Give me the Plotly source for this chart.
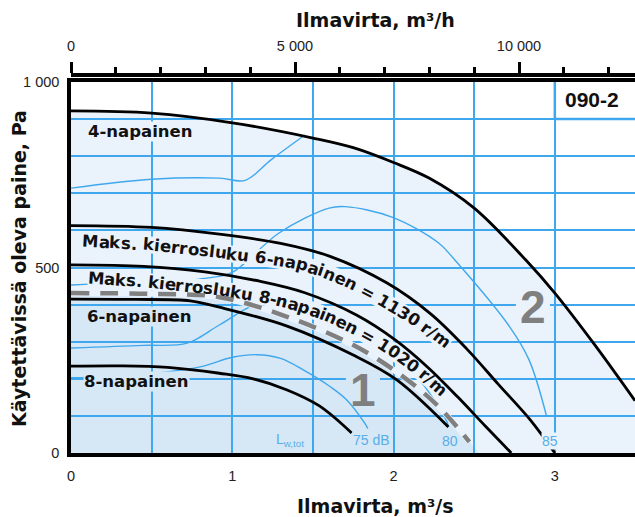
import math
import plotly.graph_objects as go

# ---- figure geometry (px) ----
FIG_W, FIG_H = 635, 517
M_L, M_R, M_T, M_B = 71, 0, 75, 64
PLOT_W = FIG_W - M_L - M_R          # width of the plot area
PLOT_H = 371                        # height spanned by 0…1000 Pa
PAPER_H = FIG_H - M_T - M_B
X_MAX = 3.497                       # m³/s at the right edge
Y_MAX = 1000
M3H_PER_M3S = 3600

# ---- fan curves: airflow (m³/s) vs available pressure (Pa) ----
pole4_q = [0, 0.5, 1.0, 1.5, 1.75, 2.0, 2.22, 2.5, 2.82, 3.0, 3.25, 3.497]
pole4_p = [922, 916, 890, 849, 823, 783, 741, 660, 520, 431, 290, 141]

max6_q = [0, 0.5, 0.92, 1.3, 1.606, 1.96, 2.23, 2.455, 2.65, 2.85, 3.0]
max6_p = [613, 608, 590, 565, 530, 458, 375, 280, 185, 88, 0]

max8_q = [0, 0.45, 0.83, 1.17, 1.45, 1.77, 2.01, 2.22, 2.4, 2.57, 2.73]
max8_p = [507, 503, 488, 463, 432, 372, 305, 228, 150, 72, 0]

limit_q = [0, 0.49, 0.92, 1.34, 1.75, 2.02, 2.27, 2.47]
limit_p = [431, 429, 420, 367, 291, 218, 129, 30]
area1_end_q = 2.53

pole6_q = [0, 0.4, 0.74, 0.92, 1.34, 1.75, 2.02, 2.34]
pole6_p = [415, 414, 410, 393, 342, 264, 197, 70]

pole8_q = [0, 0.3, 0.6, 0.92, 1.13, 1.34, 1.54, 1.74]
pole8_p = [234, 235, 231, 215, 200, 170, 127, 54]

# ---- sound power level lines ----
lw85_4p_q = [0, 0.5, 0.92, 1.08, 1.24, 1.45]
lw85_4p_p = [714, 738, 741, 735, 790, 857]

lw85_q = [0, 0.5, 0.85, 1.0, 1.29, 1.6, 1.7, 1.99, 2.28, 2.38, 2.72, 2.84, 2.95]
lw85_p = [453, 462, 472, 487, 593, 660, 664, 636, 566, 520, 340, 251, 97]

lw80_q = [0, 0.45, 0.72, 0.92, 1.17, 1.45, 1.8, 2.11, 2.32, 2.34]
lw80_p = [283, 290, 296, 345, 404, 400, 330, 224, 94, 72]

lw75_q = [0, 0.4, 0.8, 1.0, 1.15, 1.3, 1.44, 1.61, 1.71, 1.82, 1.84]
lw75_p = [203, 210, 232, 258, 265, 255, 224, 178, 143, 81, 66]

# ---- ticks ----
y_ticks = [0, 500, 1000]
y_tick_text = ["0", "500", "1 000"]
x_ticks = [0, 1, 2, 3]
x_tick_text = ["0", "1", "2", "3"]
top_ticks = [0, 5000, 10000]
top_tick_text = ["0", "5 000", "10 000"]

# ---- label baselines that follow the max-speed curves ----
lab6max_text = "Maks. kierrosluku 6-napainen = 1130 r/m"
lab6max_q = [0.068, 0.490, 0.880, 1.184, 1.420, 1.575, 1.730, 1.885, 2.040, 2.195, 2.343]
lab6max_p = [571, 561, 542, 526, 509, 488, 458, 423, 383, 340, 291]

lab8max_text = "Maks. kierrosluku 8-napainen = 1020 r/m"
lab8max_q = [0.105, 0.490, 0.880, 1.203, 1.420, 1.575, 1.730, 1.885, 2.040, 2.195, 2.319]
lab8max_p = [472, 461, 442, 420, 396, 372, 342, 305, 261, 210, 162]

# area numbers: (q, p, text, background)
area_labels = [(1.81, 170, "1", "dark"), (2.864, 394, "2", "light")]

# ---- styles ----
LIGHT = "#EAF3FB"
DARK = "#D6E7F6"
GRID = "#3FA7EE"
DBCOL = "#58AEE8"
BOLD = "DejaVu Sans"
PLAIN = "Liberation Sans, Arial, sans-serif"

# DejaVu Sans Bold advance widths (em)
ADV = {' ': 0.348, 'M': 0.995, 'a': 0.675, 'k': 0.665, 's': 0.595, '.': 0.380,
       'i': 0.343, 'e': 0.678, 'r': 0.493, 'o': 0.687, 'l': 0.343, 'u': 0.712,
       'n': 0.712, 'p': 0.716, '-': 0.415, '=': 0.838, '/': 0.365, 'm': 1.042}


def to_px(q, p):
    return M_L + q / X_MAX * PLOT_W, (FIG_H - M_B) - p / Y_MAX * PLOT_H


def to_data(px, py):
    return (px - M_L) / PLOT_W * X_MAX, ((FIG_H - M_B) - py) / PLOT_H * Y_MAX


def text_on_path(text, qs, ps, size, color):
    pts = [to_px(q, p) for q, p in zip(qs, ps)]
    cum = [0.0]
    for (x0, y0), (x1, y1) in zip(pts[:-1], pts[1:]):
        cum.append(cum[-1] + math.hypot(x1 - x0, y1 - y0))
    total_len = cum[-1]

    def point_at(s):
        s = max(0.0, min(total_len, s))
        for i in range(len(pts) - 1):
            if cum[i + 1] >= s:
                t = (s - cum[i]) / max(cum[i + 1] - cum[i], 1e-9)
                return (pts[i][0] + t * (pts[i + 1][0] - pts[i][0]),
                        pts[i][1] + t * (pts[i + 1][1] - pts[i][1]))
        return pts[-1]

    widths = [ADV.get(c, 0.696) for c in text]
    scale = total_len / sum(widths)
    anns = []
    acc = 0.0
    for ch, w in zip(text, widths):
        s = (acc + w / 2) * scale
        acc += w
        if ch == ' ':
            continue
        cx, cy = point_at(s)
        ax0, ay0 = point_at(s - 7)
        ax1, ay1 = point_at(s + 7)
        ang = math.degrees(math.atan2(ay1 - ay0, ax1 - ax0))
        q, p = to_data(cx, cy)
        anns.append(dict(x=q, y=p, xref="x", yref="y", text=ch, showarrow=False,
                         textangle=ang, xanchor="center", yanchor="middle",
                         font=dict(family=BOLD, size=size, color=color, weight="bold")))
    return anns


def area_path(qs, ps):
    d = "M {},{} ".format(qs[0], 0)
    d += " ".join("L {},{}".format(q, p) for q, p in zip(qs, ps))
    d += " L {},{} Z".format(qs[-1], 0)
    return d


fig = go.Figure()


def line(qs, ps, color, width, dash=None, shape="spline"):
    fig.add_trace(go.Scatter(x=qs, y=ps, mode="lines", hoverinfo="skip",
                             line=dict(color=color, width=width, dash=dash,
                                       shape=shape, smoothing=1.0)))


# sound level lines
for qs, ps in [(lw85_4p_q, lw85_4p_p), (lw85_q, lw85_p), (lw80_q, lw80_p), (lw75_q, lw75_p)]:
    line(qs, ps, GRID, 1.4)

# backing strips behind the curved labels
line(lab6max_q, lab6max_p, LIGHT, 17)
line(lab8max_q, lab8max_p, LIGHT, 17)

# boundary of operating area 1
line(limit_q, limit_p, LIGHT, 6)
line(limit_q, limit_p, "#808080", 4.5, dash="18px,11px")

# fan curves
for qs, ps in [(pole4_q, pole4_p), (max6_q, max6_p), (max8_q, max8_p),
               (pole6_q, pole6_p), (pole8_q, pole8_p)]:
    line(qs, ps, "black", 2.8)

# activates the m³/h axis
fig.add_trace(go.Scatter(x=[top_ticks[0]], y=[y_ticks[0]], xaxis="x2", yaxis="y",
                         mode="markers", marker=dict(opacity=0), hoverinfo="skip"))

shapes = [
    dict(type="path", path=area_path(pole4_q, pole4_p), xref="x", yref="y",
         fillcolor=LIGHT, line=dict(width=0), layer="below"),
    dict(type="path", path=area_path(limit_q + [area1_end_q], limit_p + [0]),
         xref="x", yref="y", fillcolor=DARK, line=dict(width=0), layer="below"),
    dict(type="line", x0=3.0, x1=3.0, y0=900, y1=Y_MAX, xref="x", yref="y",
         line=dict(color=GRID, width=2.5), layer="between"),
    dict(type="line", x0=3.0, x1=X_MAX, y0=900, y1=900, xref="x", yref="y",
         line=dict(color=GRID, width=2.5), layer="between"),
]

anns = []
anns += text_on_path(lab6max_text, lab6max_q, lab6max_p, 16.5, "#111111")
anns += text_on_path(lab8max_text, lab8max_q, lab8max_p, 16.5, "#111111")


def label(q, p, text, size, color, bg, family=BOLD, weight="bold"):
    anns.append(dict(x=q, y=p, xref="x", yref="y", text=text, showarrow=False,
                     xanchor="center", yanchor="middle", bgcolor=bg, borderpad=0,
                     font=dict(family=family, size=size, color=color, weight=weight)))


label(0.428, 867, "4-napainen", 16.5, "#111111", LIGHT)
label(0.422, 367, "6-napainen", 16.5, "#111111", DARK)
label(0.409, 194, "8-napainen", 16.5, "#111111", DARK)
label(3.23, 952, "090-2", 21, "#111111", "white", PLAIN)
label(1.358, 35, "L<sub>w,tot</sub>", 14, DBCOL, DARK, PLAIN, "normal")
label(1.866, 35, "75 dB", 14, DBCOL, DARK, PLAIN, "normal")
label(2.35, 32, "80", 14, DBCOL, DARK, PLAIN, "normal")
label(2.97, 32, "85", 14, DBCOL, LIGHT, PLAIN, "normal")

# big area numbers: the backing patch sits under the curves, above the grid
for q, p, txt, bg in area_labels:
    cx, cy = to_px(q, p)
    qa, pa = to_data(cx - 17, cy + 20)
    qb, pb = to_data(cx + 17, cy - 20)
    shapes.append(dict(type="rect", x0=qa, x1=qb, y0=pa, y1=pb, xref="x", yref="y",
                       fillcolor=LIGHT if bg == "light" else DARK,
                       line=dict(width=0), layer="between"))
    anns.append(dict(x=q, y=p, xref="x", yref="y", text=txt, showarrow=False,
                     xanchor="center", yanchor="middle",
                     font=dict(family=PLAIN, size=46, color="#7F7F7F", weight="bold")))

# axis titles
title_font = dict(family=BOLD, size=19, color="#111111", weight="bold")
anns.append(dict(x=(375 - M_L) / PLOT_W, y=1 + (M_T - 20) / PAPER_H, xref="paper", yref="paper",
                 text="Ilmavirta, m³/h", showarrow=False, xanchor="center", yanchor="middle",
                 font=title_font))
anns.append(dict(x=(375 - M_L) / PLOT_W, y=-(506 - (FIG_H - M_B)) / PAPER_H, xref="paper", yref="paper",
                 text="Ilmavirta, m³/s", showarrow=False, xanchor="center", yanchor="middle",
                 font=title_font))
anns.append(dict(x=-(M_L - 19) / PLOT_W, y=((FIG_H - M_B) - 269) / PAPER_H, xref="paper", yref="paper",
                 text="Käytettävissä oleva paine, Pa", showarrow=False, textangle=-90,
                 xanchor="center", yanchor="middle", font=title_font))

tick_font = dict(family=PLAIN, size=14.5, color="#222222")

fig.update_layout(
    width=FIG_W, height=FIG_H,
    margin=dict(l=M_L, r=M_R, t=M_T, b=M_B, pad=0),
    paper_bgcolor="white", plot_bgcolor="white",
    showlegend=False,
    shapes=shapes, annotations=anns,
    xaxis=dict(range=[0, X_MAX], domain=[0, 1], anchor="y",
               tickvals=x_ticks, ticktext=x_tick_text, ticks="",
               showgrid=True, gridcolor=GRID, gridwidth=2,
               minor=dict(dtick=0.5, tick0=0, showgrid=True, gridcolor=GRID, gridwidth=1.5),
               showline=True, linecolor="black", linewidth=3.5, mirror=True,
               zeroline=False, tickfont=tick_font, ticklabelstandoff=7, fixedrange=True),
    yaxis=dict(range=[0, Y_MAX], domain=[0, PLOT_H / PAPER_H], anchor="x",
               tickvals=y_ticks, ticktext=y_tick_text, ticks="",
               showgrid=True, gridcolor=GRID, gridwidth=1.5,
               minor=dict(dtick=100, tick0=0, showgrid=True, gridcolor=GRID, gridwidth=1.5),
               showline=True, linecolor="black", linewidth=3.5,
               zeroline=False, tickfont=tick_font, ticklabelstandoff=5, fixedrange=True),
    xaxis2=dict(range=[0, X_MAX * M3H_PER_M3S], overlaying="x", side="top",
                anchor="free", position=1,
                tickvals=top_ticks, ticktext=top_tick_text,
                ticks="outside", ticklen=11, tickwidth=3, tickcolor="black",
                minor=dict(ticks="outside", ticklen=6, tickwidth=2.5, dtick=1000,
                           tick0=0, tickcolor="black"),
                showline=True, linecolor="black", linewidth=3.5,
                showgrid=False, zeroline=False, tickfont=tick_font,
                ticklabelstandoff=5, fixedrange=True),
)

fig.write_html("out.html")
